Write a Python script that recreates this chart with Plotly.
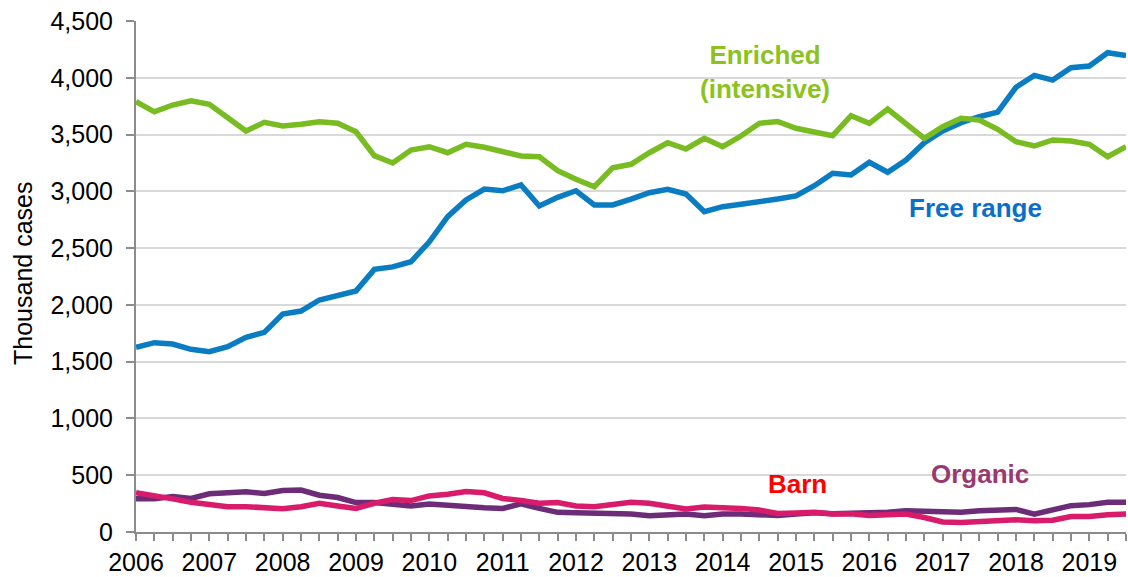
import plotly.graph_objects as go

years = list(range(2006, 2020))
quarters = list(range(55))  # 2006 Q1 .. 2019 Q3

enriched = [3790, 3700, 3760, 3798, 3766, 3643, 3531, 3608, 3575, 3590,
            3613, 3599, 3525, 3314, 3250, 3364, 3393, 3340, 3414, 3388,
            3349, 3311, 3305, 3182, 3106, 3041, 3208, 3238, 3340, 3428,
            3373, 3467, 3393, 3487, 3599, 3615, 3555, 3520, 3490, 3666,
            3599, 3725, 3590, 3467, 3569, 3643, 3628, 3546, 3437, 3399,
            3452, 3443, 3414, 3305, 3393]

free_range = [1626, 1667, 1655, 1609, 1588, 1632, 1714, 1758, 1920, 1946,
              2043, 2087, 2122, 2313, 2335, 2380, 2556, 2777, 2924, 3020,
              3005, 3056, 2871, 2947, 3005, 2880, 2880, 2932, 2988, 3018,
              2976, 2821, 2865, 2886, 2903, 2932, 2959, 3050, 3159, 3144,
              3256, 3168, 3276, 3428, 3531, 3605, 3657, 3698, 3916, 4021,
              3980, 4089, 4104, 4221, 4195]

barn = [345, 324, 292, 262, 247, 223, 223, 217, 205, 223,
        253, 229, 208, 253, 286, 277, 318, 333, 357, 345,
        295, 277, 253, 259, 229, 223, 238, 262, 253, 232,
        202, 220, 220, 208, 193, 164, 167, 173, 158, 161,
        146, 149, 158, 128, 89, 83, 89, 98, 107, 98,
        104, 137, 137, 152, 158]

organic = [292, 292, 312, 295, 336, 339, 354, 339, 366, 369,
           324, 304, 259, 259, 247, 229, 247, 232, 223, 214,
           208, 247, 208, 173, 170, 170, 167, 158, 143, 149,
           158, 143, 158, 158, 152, 146, 158, 170, 161, 167,
           161, 173, 187, 179, 173, 173, 187, 193, 199, 158,
           193, 232, 241, 262, 262]

tick_text = [str(years[i // 4]) if i % 4 == 0 else "" for i in quarters]

FONT = "Liberation Sans, Arial, sans-serif"

fig = go.Figure()
series = [
    ("Organic", organic, "#6c2c78"),
    ("Barn", barn, "#d81b6a"),
    ("Free range", free_range, "#0a7dc2"),
    ("Enriched (intensive)", enriched, "#78bc22"),
]
for name, vals, col in series:
    fig.add_trace(go.Scatter(x=quarters, y=vals, mode="lines", name=name,
                             line=dict(color=col, width=5.5)))

labels = [
    ("<b>Enriched<br>(intensive)</b>", 34.3, 4055, "#8cc21c"),
    ("<b>Free range</b>", 45.8, 2853, "#0a6fc9"),
    ("<b>Barn</b>", 36.1, 423, "#ff0000"),
    ("<b>Organic</b>", 46.05, 511, "#983a70"),
]
for txt, x, y, col in labels:
    fig.add_annotation(x=x, y=y, text=txt, showarrow=False,
                       font=dict(family=FONT, size=26, color=col),
                       xanchor="center", yanchor="middle")

# y-axis title
fig.add_annotation(xref="paper", yref="paper", x=-0.1141, y=0.505,
                   text="Thousand cases", textangle=-90, showarrow=False,
                   font=dict(family=FONT, size=25, color="black"),
                   xanchor="center", yanchor="middle")

fig.update_layout(
    width=1128, height=577,
    margin=dict(l=136, r=2, t=21, b=45),
    paper_bgcolor="white", plot_bgcolor="white",
    showlegend=False,
    font=dict(family=FONT, size=25, color="black"),
)
fig.update_xaxes(
    range=[0, 54], tickmode="array", tickvals=quarters, ticktext=tick_text,
    ticks="outside", ticklen=7, tickcolor="#8c8c8c", tickwidth=1.5,
    showline=True, linecolor="#8c8c8c", linewidth=2,
    showgrid=False, zeroline=False, tickangle=0, automargin=False,
    tickfont=dict(family=FONT, size=25, color="black"),
)
fig.update_yaxes(
    range=[0, 4500], dtick=500, tickformat=",",
    ticks="outside", ticklen=8, tickcolor="#8c8c8c", tickwidth=1.5,
    showline=True, linecolor="#8c8c8c", linewidth=2, automargin=False,
    showgrid=True, gridcolor="#d9d9d9", gridwidth=1.5, zeroline=False,
    ticklabelstandoff=8,
    tickfont=dict(family=FONT, size=25, color="black"),
)

fig.write_html("out.html", config={"displayModeBar": False},
               post_script="document.body.style.margin='0';document.body.style.overflow='hidden';")
